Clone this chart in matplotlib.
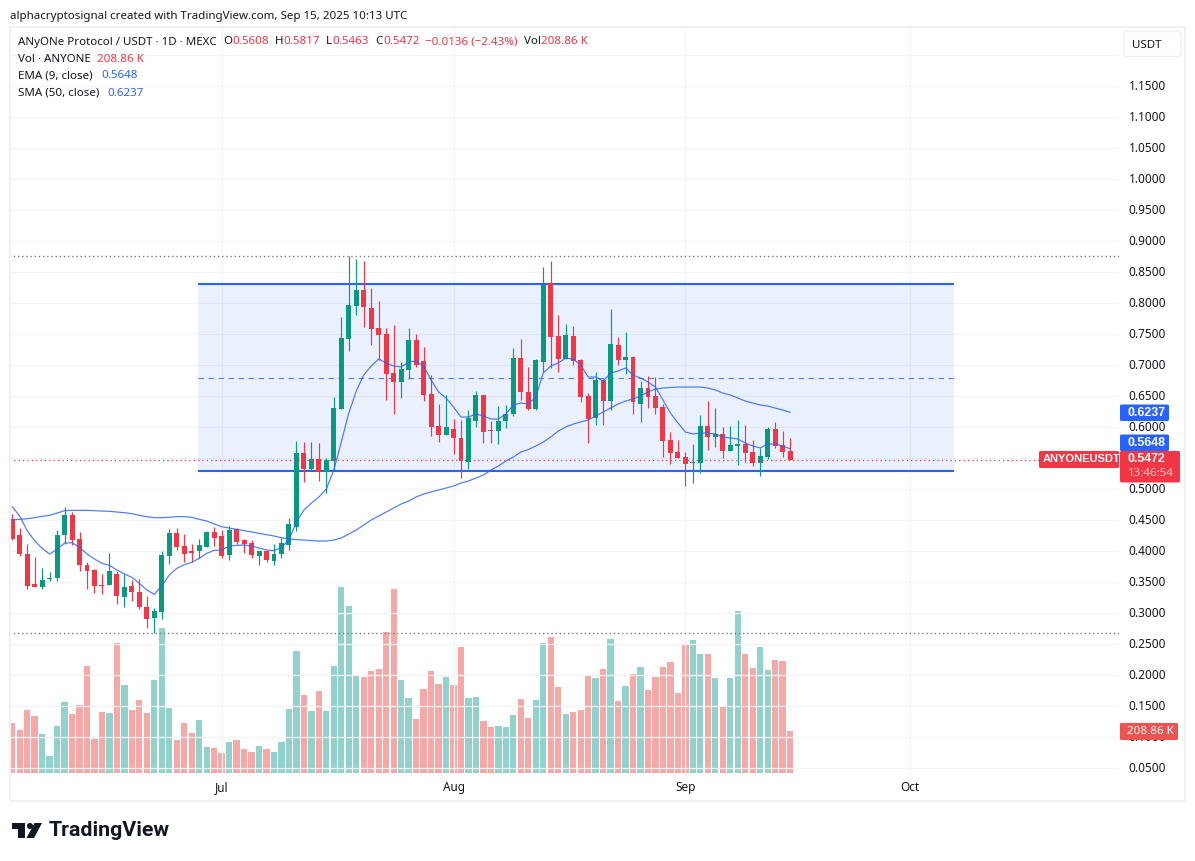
import numpy as np
import pandas as pd
import matplotlib
matplotlib.use('Agg')
import matplotlib.pyplot as plt
import matplotlib.dates as mdates
from matplotlib.patches import Rectangle, Polygon, Circle, FancyBboxPatch
from matplotlib.transforms import ScaledTranslation

plt.rcParams['font.family'] = ['Noto Sans', 'DejaVu Sans']

dates = pd.date_range('2025-06-03', periods=105)

opens = [.4516, .4258, .3951, .3468, .3419, .3548, .3564, .4258, .4580, .4193, .3774, .3693, .3452, .3452, .3629,
         .3258, .3435, .3339, .3097, .2919, .3016, .3919, .4290, .4080, .4000, .4000, .4064, .4306, .4242, .3935,
         .4355, .4177, .4129, .3919, .4000, .3838, .3951, .4097, .4387, .5580, .5322, .5484, .5274, .5451, .6290,
         .7419, .7951, .8209, .7919, .7597, .7500, .6871, .6726, .6919, .7403, .7064, .6532, .6016, .5871, .5967,
         .5822, .5435, .6097, .6516, .5951, .5935, .6097, .6209, .7113, .6564, .6290, .7048, .8317, .7468, .7097,
         .7468, .7081, .6500, .6145, .6758, .6419, .7322, .7081, .7129, .6371, .6629, .6500, .6322, .5790, .5597,
         .5516, .5419, .5419, .6016, .5838, .5887, .5613, .5693, .5725, .5597, .5419, .5516, .5967, .5709, .5608]
highs = [.4597, .4371, .4113, .3903, .3726, .3661, .4339, .4710, .4629, .4306, .3822, .3710, .3629, .3968, .3677,
         .3629, .3532, .3548, .3274, .3081, .4000, .4355, .4371, .4274, .4113, .4193, .4323, .4387, .4339, .4403,
         .4371, .4193, .4177, .4000, .4000, .4113, .4210, .4532, .5774, .5758, .5758, .5742, .5500, .6484, .7774,
         .8758, .8709, .8677, .8242, .8032, .7597, .7645, .7048, .7597, .7500, .7290, .6838, .6371, .6516, .6129,
         .6113, .6274, .6581, .6516, .6097, .6338, .6355, .7274, .7419, .6967, .7097, .8580, .8677, .7806, .7661,
         .7629, .7097, .6548, .6887, .6774, .7903, .7451, .7532, .7145, .6741, .6822, .6806, .6371, .5919, .5790,
         .5597, .5725, .6193, .6419, .6306, .6000, .6016, .6113, .6032, .5790, .5661, .6000, .6080, .5935, .5817]
lows = [.4177, .3919, .3387, .3419, .3387, .3516, .3516, .4113, .4097, .3677, .3387, .3322, .3306, .3452, .3145,
        .3097, .3193, .3064, .2758, .2672, .2903, .3790, .4016, .3822, .3822, .3887, .4064, .4080, .3887, .3855,
        .4113, .3968, .3887, .3774, .3822, .3774, .3887, .4016, .4323, .5113, .5306, .5129, .4935, .5306, .6290,
        .7225, .7806, .7613, .7322, .7081, .6435, .6209, .6468, .6774, .6967, .6419, .5855, .5758, .5871, .5564,
        .5177, .5322, .6000, .5742, .5742, .5725, .5984, .6177, .6435, .6274, .6274, .6887, .6951, .6887, .7097,
        .7000, .6403, .5742, .6032, .6032, .6274, .7000, .6855, .6209, .6080, .6306, .6209, .5516, .5403, .5500,
        .5048, .5097, .5258, .5629, .5677, .5500, .5613, .5387, .5435, .5371, .5209, .5484, .5661, .5516, .5463]
closes = [.4193, .3951, .3435, .3419, .3532, .3564, .4258, .4580, .4177, .3774, .3677, .3435, .3435, .3677, .3274,
          .3419, .3339, .3097, .2903, .3032, .3935, .4290, .4064, .3951, .3968, .4097, .4306, .4210, .3919, .4339,
          .4145, .4113, .3935, .4000, .3855, .3951, .4129, .4435, .5580, .5322, .5484, .5274, .5473, .6306, .7435,
          .7967, .8209, .7935, .7581, .7484, .6855, .6726, .6935, .7403, .7000, .6516, .6000, .5871, .6000, .5822,
          .5451, .6145, .6516, .5919, .5935, .6097, .6209, .7113, .6564, .6290, .7081, .8290, .7451, .7097, .7484,
          .7064, .6484, .6129, .6758, .6419, .7338, .7081, .7129, .6403, .6629, .6484, .6306, .5774, .5581, .5500,
          .5403, .5435, .6016, .5838, .5887, .5613, .5709, .5725, .5581, .5419, .5532, .5967, .5693, .5597, .5472]
volumes = [249, 214, 314, 284, 194, 84, 234, 354, 294, 339, 535, 169, 304, 299, 650,
           439, 314, 364, 299, 465, 725, 324, 164, 249, 199, 264, 129, 124, 99, 154,
           164, 119, 104, 134, 119, 104, 154, 319, 610, 389, 309, 409, 309, 535, 931,
           836, 485, 480, 510, 520, 705, 921, 465, 374, 269, 419, 510, 444, 480, 439,
           630, 374, 379, 259, 229, 234, 229, 289, 369, 274, 364, 650, 680, 429, 294,
           304, 314, 485, 475, 520, 670, 359, 434, 495, 530, 414, 480, 530, 555, 399,
           640, 665, 595, 595, 475, 329, 475, 810, 595, 525, 630, 515, 565, 560, 208.86]
ema9 = [.4715, .4564, .4328, .4166, .4043, .3951, .4027, .4129, .4134, .4059, .3951, .3871, .3801, .3769, .3693,
        .3629, .3575, .3478, .3371, .3301, .3441, .3613, .3720, .3779, .3817, .3881, .3962, .4011, .4016, .4080,
        .4091, .4097, .4080, .4048, .4016, .4005, .4059, .4177, .4473, .4661, .4774, .4871, .5000, .5306, .5758,
        .6226, .6581, .6839, .6984, .7097, .7032, .6984, .6968, .7048, .7065, .6984, .6758, .6565, .6468, .6323,
        .6161, .6161, .6210, .6177, .6129, .6129, .6210, .6355, .6387, .6371, .6484, .6871, .6984, .7032, .7113,
        .7097, .7000, .6806, .6806, .6742, .6871, .6903, .6952, .6839, .6790, .6726, .6645, .6435, .6226, .6065,
        .5919, .5887, .5903, .5903, .5887, .5839, .5823, .5806, .5742, .5694, .5661, .5726, .5726, .5694, .5648]
sma50 = [.4500, .4511, .4521, .4537, .4559, .4575, .4613, .4650, .4656, .4656, .4656, .4650, .4645, .4640, .4629,
         .4618, .4602, .4575, .4554, .4537, .4537, .4543, .4554, .4554, .4543, .4511, .4484, .4435, .4392, .4371,
         .4349, .4328, .4306, .4285, .4263, .4242, .4215, .4193, .4183, .4177, .4169, .4161, .4161, .4177, .4210,
         .4274, .4339, .4419, .4500, .4565, .4629, .4694, .4758, .4806, .4871, .4919, .4952, .4984, .5016, .5048,
         .5097, .5129, .5177, .5226, .5306, .5371, .5452, .5516, .5597, .5637, .5694, .5758, .5839, .5935, .6000,
         .6048, .6081, .6113, .6177, .6242, .6306, .6371, .6419, .6452, .6500, .6565, .6613, .6629, .6637, .6645,
         .6645, .6645, .6645, .6629, .6597, .6548, .6516, .6468, .6419, .6387, .6355, .6339, .6306, .6274, .6237]

price_ticks = [round(.05 * i, 2) for i in range(1, 25)]
month_ticks = ['2025-07-01', '2025-08-01', '2025-09-01', '2025-10-01']

channel_top = .8306
channel_bottom = .5290
channel_mid = .6798
channel_start = pd.Timestamp('2025-06-27 20:00')
channel_end = pd.Timestamp('2025-10-06 22:00')
high_mark = .8758
low_mark = .2672
last_price = .5472

GREEN = '#089981'
RED = '#f23645'
BLUE = '#2962ff'
GRID = '#f2f3f5'
TEXT = '#131722'
W, H = 1195, 861

fig = plt.figure(figsize=(W / 100, H / 100), dpi=100, facecolor='white')


def px_axes(left, top, right, bottom):
    return [left / W, 1 - bottom / H, (right - left) / W, (bottom - top) / H]


# volume sits on its own scale behind the candles
vol_ax = fig.add_axes(px_axes(10, 27, 1119, 776))
ax = fig.add_axes(px_axes(10, 27, 1119, 776), sharex=vol_ax)
ax.patch.set_visible(False)
vol_ax.set_zorder(1)
ax.set_zorder(2)

x = mdates.date2num(dates)
o, h, l, c = map(np.array, (opens, highs, lows, closes))
up = c >= o
colors = np.where(up, GREEN, RED)
vol_colors = np.where(up, '#26a69a', '#ef5350')

vol_ax.bar(x, volumes, width=0.84, color=vol_colors, alpha=0.5, linewidth=0)
vol_ax.set_ylim(-16.5, 3738)
vol_ax.axis('off')

ax.set_xlim(x[0] - 0.294, x[0] + 147.97)
ax.set_ylim(.0371, 1.2452)

ax.set_yticks(price_ticks)
ax.set_yticklabels(['' if p in (.55, 1.2) else f'{p:.4f}' for p in price_ticks], fontsize=8.5, color=TEXT)
ax.set_xticks(mdates.date2num(pd.to_datetime(month_ticks)))
ax.set_xticklabels(['Jul', 'Aug', 'Sep', 'Oct'], fontsize=8.5, color=TEXT)
ax.yaxis.tick_right()
ax.tick_params(axis='y', length=0, pad=7)
ax.tick_params(axis='x', length=0, pad=3.5)
ax.grid(True, color=GRID, linewidth=0.9)
ax.set_axisbelow(True)
for s in ax.spines.values():
    s.set_visible(False)
for lab in ax.get_yticklabels():
    lab.set_transform(lab.get_transform() + ScaledTranslation(0, 1 / 100, fig.dpi_scale_trans))

ax.hlines([high_mark, low_mark], x[0] - 1, x[0] + 148, color='#787b86', linewidth=1, linestyles=(0, (1, 2)), zorder=1.5)

x0, x1 = mdates.date2num(channel_start), mdates.date2num(channel_end)
ax.add_patch(Rectangle((x0, channel_bottom), x1 - x0, channel_top - channel_bottom, facecolor=BLUE, alpha=0.09,
                       linewidth=0, zorder=1))
ax.hlines([channel_top, channel_bottom], x0, x1, color=BLUE, linewidth=1.5, zorder=1.6)
ax.hlines(channel_mid, x0, x1, color=BLUE, linewidth=0.8, linestyles=(0, (5, 4)), alpha=0.8, zorder=1.6)

ax.vlines(x, l, h, color=colors, linewidth=0.85, zorder=2)
body_low = np.minimum(o, c)
body_h = np.maximum(np.abs(c - o), .0016)
ax.bar(x, body_h, bottom=body_low, width=0.66, color=colors, linewidth=0, zorder=2.1)

ax.plot(x, ema9, color=BLUE, linewidth=0.85, alpha=0.85, zorder=3)
ax.plot(x, sma50, color=BLUE, linewidth=0.85, alpha=0.85, zorder=3)
ax.hlines(last_price, x[0] - 1, x[0] + 148, color=RED, linewidth=0.9, linestyles=(0, (1, 2.5)), zorder=3)

# overlay in pixels for the header, legend, price tags and logo
ov = fig.add_axes([0, 0, 1, 1], zorder=5)
ov.set_xlim(0, W)
ov.set_ylim(H, 0)
ov.axis('off')
ov.add_patch(Rectangle((10, 26.5), 1175, 774, fill=False, edgecolor='#f0f1f3', linewidth=1.6))
FS = 8.3


def label(px, py, s, color=TEXT, size=FS, **kw):
    ov.text(px, py, s, color=color, fontsize=size, va='center', ha=kw.pop('ha', 'left'), **kw)


label(10, 16, 'alphacryptosignal created with TradingView.com, Sep 15, 2025 10:13 UTC')
label(18, 42, 'ANyONe Protocol / USDT · 1D · MEXC')
for px, s in [(223, 'O'), (275, 'H'), (326, 'L'), (375, 'C'), (524, 'Vol')]:
    label(px, 42, s)
for px, s in [(232, '0.5608'), (283, '0.5817'), (332, '0.5463'), (383, '0.5472'),
              (425, '−0.0136 (−2.43%)'), (541, '208.86 K')]:
    label(px, 42, s, color=RED)
label(18, 59, 'Vol · ANYONE')
label(97, 59, '208.86 K', color=RED)
label(18, 76, 'EMA (9, close)')
label(101, 76, '0.5648', color=BLUE)
label(18, 93, 'SMA (50, close)')
label(107, 93, '0.6237', color=BLUE)

ov.add_patch(FancyBboxPatch((1124, 31.5), 57, 25, boxstyle='round,pad=0,rounding_size=3', facecolor='white',
                            edgecolor='#eceef2', linewidth=0.9))
label(1132, 45, 'USDT')


def tag(left, top, right, bottom, color):
    ov.add_patch(FancyBboxPatch((left, top), right - left, bottom - top, boxstyle='round,pad=0,rounding_size=1.5',
                                facecolor=color, edgecolor='none', zorder=3))


BOLD = {'family': 'Liberation Sans', 'fontweight': 'bold', 'zorder': 4}
tag(1120, 404.5, 1169, 421, BLUE)
label(1128, 412.5, '0.6237', color='white', size=8.9, **BOLD)
tag(1120, 434.5, 1169, 451, BLUE)
label(1128, 442.5, '0.5648', color='white', size=8.9, **BOLD)
tag(1120, 451, 1180, 482.5, RED)
label(1128, 459.5, '0.5472', color='white', size=8.9, **BOLD)
label(1128, 473.5, '13:46:54', color='#fbc2c7', zorder=4)
tag(1039, 451, 1119, 468, RED)
label(1043, 459.5, 'ANYONEUSDT', color='white', size=8.0, **BOLD)
tag(1120, 723, 1178, 740, '#ef5350')
label(1127, 731.5, '208.86 K', color='white', zorder=4)

# logo
ov.add_patch(Polygon([(12, 823), (25, 823), (25, 838), (18, 838), (18, 829), (12, 829)], color='#131722', linewidth=0))
ov.add_patch(Circle((30, 826), 3, color='#131722', linewidth=0))
ov.add_patch(Polygon([(34.5, 823), (42, 823), (34, 838), (26.5, 838)], color='#131722', linewidth=0))
label(48.5, 831, 'TradingView', size=15.4, family='Roboto', fontweight='bold', color='#131722')

fig.savefig('out.png', dpi=100)
